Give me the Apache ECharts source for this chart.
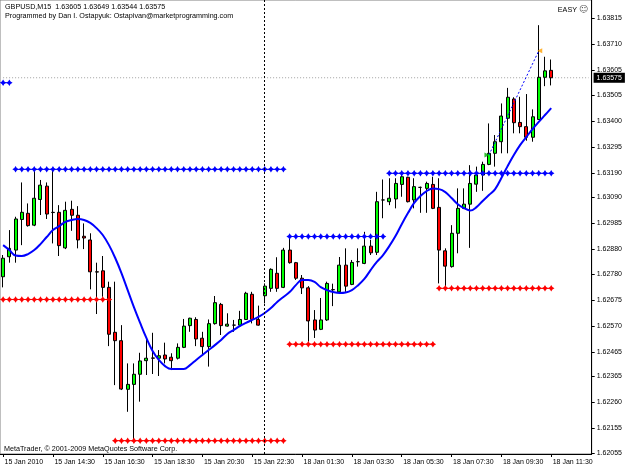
<!DOCTYPE html>
<html><head><meta charset="utf-8">
<script src="https://cdn.jsdelivr.net/npm/echarts@6/dist/echarts.min.js"></script>
<style>html,body{margin:0;padding:0;background:#fff}#c{width:625px;height:469px}</style>
</head><body><div id="c"></div>
<script>
// ---- data ----
const categories = [
'15 Jan 12:30','15 Jan 12:45',
'15 Jan 13:00','15 Jan 13:15','15 Jan 13:30','15 Jan 13:45',
'15 Jan 14:00','15 Jan 14:15','15 Jan 14:30','15 Jan 14:45',
'15 Jan 15:00','15 Jan 15:15','15 Jan 15:30','15 Jan 15:45',
'15 Jan 16:00','15 Jan 16:15','15 Jan 16:30','15 Jan 16:45',
'15 Jan 17:00','15 Jan 17:15','15 Jan 17:30','15 Jan 17:45',
'15 Jan 18:00','15 Jan 18:15','15 Jan 18:30','15 Jan 18:45',
'15 Jan 19:00','15 Jan 19:15','15 Jan 19:30','15 Jan 19:45',
'15 Jan 20:00','15 Jan 20:15','15 Jan 20:30','15 Jan 20:45',
'15 Jan 21:00','15 Jan 21:15','15 Jan 21:30','15 Jan 21:45',
'15 Jan 22:00','15 Jan 22:15','15 Jan 22:30','15 Jan 22:45',
'18 Jan 00:00','18 Jan 00:15','18 Jan 00:30','18 Jan 00:45',
'18 Jan 01:00','18 Jan 01:15','18 Jan 01:30','18 Jan 01:45',
'18 Jan 02:00','18 Jan 02:15','18 Jan 02:30','18 Jan 02:45',
'18 Jan 03:00','18 Jan 03:15','18 Jan 03:30','18 Jan 03:45',
'18 Jan 04:00','18 Jan 04:15','18 Jan 04:30','18 Jan 04:45',
'18 Jan 05:00','18 Jan 05:15','18 Jan 05:30','18 Jan 05:45',
'18 Jan 06:00','18 Jan 06:15','18 Jan 06:30','18 Jan 06:45',
'18 Jan 07:00','18 Jan 07:15','18 Jan 07:30','18 Jan 07:45',
'18 Jan 08:00','18 Jan 08:15','18 Jan 08:30','18 Jan 08:45',
'18 Jan 09:00','18 Jan 09:15','18 Jan 09:30','18 Jan 09:45',
'18 Jan 10:00','18 Jan 10:15','18 Jan 10:30','18 Jan 10:45',
'18 Jan 11:00','18 Jan 11:15','18 Jan 11:30',
'18 Jan 11:45','18 Jan 12:00','18 Jan 12:15','18 Jan 12:30','18 Jan 12:45','18 Jan 13:00'
];
const xTickLabels = ['15 Jan 2010','15 Jan 14:30','15 Jan 16:30','15 Jan 18:30','15 Jan 20:30','15 Jan 22:30',
  '18 Jan 01:30','18 Jan 03:30','18 Jan 05:30','18 Jan 07:30','18 Jan 09:30','18 Jan 11:30'];
const yTickLabels = [1.62055,1.62155,1.62260,1.62365,1.62465,1.62570,1.62675,1.62780,1.62880,
  1.62985,1.63090,1.63190,1.63295,1.63400,1.63505,1.63605,1.63710,1.63815];

const opens = [1.62769,1.62850,1.62877,1.63001,1.63026,1.62978,1.63082,1.63136,1.63030,1.63030,
1.62886,1.63042,1.63018,1.62933,1.62918,1.62789,1.62793,1.62726,1.62544,1.62510,
1.62313,1.62333,1.62374,1.62429,1.62440,1.62439,1.62452,1.62443,1.62439,1.62483,
1.62571,1.62596,1.62520,1.62486,1.62579,1.62657,1.62569,1.62573,1.62573,1.62596,
1.62698,1.62596,1.62692,1.62722,1.62783,1.62726,1.62877,1.62826,1.62763,1.62724,
1.62594,1.62556,1.62594,1.62717,1.62708,1.62816,1.62738,1.62830,1.62823,1.62893,
1.62868,1.63080,1.63073,1.63084,1.63143,1.63172,1.63080,1.63131,1.63127,1.63143,
1.63050,1.62874,1.62810,1.62945,1.63046,1.63063,1.63144,1.63181,1.63224,1.63269,
1.63316,1.63411,1.63489,1.63394,1.63377,1.63334,1.63406,1.63577,1.63605];
const highs = [1.62857,1.62958,1.63012,1.63151,1.63066,1.63201,1.63161,1.63151,1.63201,1.63059,
1.63073,1.63077,1.63055,1.62985,1.62945,1.62826,1.62853,1.62749,1.62749,1.62573,
1.62418,1.62418,1.62461,1.62522,1.62542,1.62472,1.62502,1.62459,1.62499,1.62598,
1.62603,1.62605,1.62546,1.62596,1.62691,1.62663,1.62621,1.62594,1.62631,1.62708,
1.62708,1.62652,1.62742,1.62803,1.62848,1.62886,1.62934,1.62829,1.62776,1.62731,
1.62634,1.62683,1.62749,1.62741,1.62849,1.62884,1.62837,1.62884,1.62951,1.62918,
1.63113,1.63163,1.63168,1.63168,1.63194,1.63174,1.63168,1.63134,1.63154,1.63174,
1.63168,1.62884,1.62978,1.63127,1.63127,1.63221,1.63215,1.63235,1.63390,1.63343,
1.63471,1.63534,1.63496,1.63498,1.63509,1.63447,1.63788,1.63660,1.63649];
const lows = [1.62726,1.62826,1.62826,1.62897,1.62972,1.62974,1.63019,1.63003,1.62904,1.62853,
1.62881,1.62955,1.62884,1.62881,1.62718,1.62618,1.62688,1.62488,1.62330,1.62310,
1.62222,1.62108,1.62263,1.62371,1.62375,1.62367,1.62418,1.62391,1.62434,1.62480,
1.62546,1.62488,1.62448,1.62405,1.62575,1.62533,1.62567,1.62546,1.62569,1.62594,
1.62580,1.62571,1.62661,1.62708,1.62708,1.62723,1.62822,1.62756,1.62699,1.62506,
1.62521,1.62553,1.62590,1.62650,1.62705,1.62708,1.62735,1.62810,1.62820,1.62857,
1.62857,1.63006,1.63059,1.63046,1.63093,1.63070,1.63046,1.63028,1.63028,1.63043,
1.62742,1.62729,1.62806,1.62864,1.63043,1.62886,1.63113,1.63117,1.63221,1.63215,
1.63269,1.63269,1.63350,1.63350,1.63320,1.63316,1.63404,1.63541,1.63544];
const closes = [1.62844,1.62884,1.63003,1.63030,1.62976,1.63087,1.63140,1.63023,1.63029,1.62895,
1.63038,1.63018,1.62918,1.62926,1.62789,1.62788,1.62726,1.62536,1.62510,1.62314,
1.62333,1.62374,1.62428,1.62439,1.62439,1.62449,1.62436,1.62429,1.62483,1.62569,
1.62601,1.62517,1.62486,1.62579,1.62664,1.62571,1.62577,1.62573,1.62596,1.62702,
1.62596,1.62573,1.62731,1.62799,1.62722,1.62877,1.62826,1.62763,1.62724,1.62590,
1.62553,1.62594,1.62742,1.62716,1.62816,1.62731,1.62827,1.62830,1.62893,1.62866,
1.63073,1.63080,1.63087,1.63147,1.63174,1.63073,1.63134,1.63131,1.63147,1.63046,
1.62877,1.62812,1.62945,1.63046,1.63063,1.63147,1.63181,1.63224,1.63269,1.63316,
1.63420,1.63496,1.63393,1.63377,1.63334,1.63417,1.63577,1.63603,1.63575];
const maValues = [1.62897,1.62877,1.62855,1.62853,1.62861,1.62877,1.62901,1.62930,1.62958,1.62974,
1.62991,1.62999,1.63003,1.62999,1.62987,1.62966,1.62938,1.62897,1.62845,1.62784,
1.62715,1.62646,1.62582,1.62521,1.62468,1.62432,1.62407,1.62395,1.62395,1.62395,
1.62411,1.62432,1.62452,1.62472,1.62492,1.62513,1.62537,1.62553,1.62569,1.62582,
1.62594,1.62606,1.62622,1.62642,1.62667,1.62687,1.62707,1.62735,1.62756,1.62756,
1.62748,1.62727,1.62715,1.62707,1.62703,1.62705,1.62715,1.62735,1.62760,1.62796,
1.62829,1.62857,1.62893,1.62934,1.62982,1.63027,1.63068,1.63096,1.63116,1.63126,
1.63124,1.63112,1.63088,1.63063,1.63047,1.63037,1.63051,1.63076,1.63100,1.63124,
1.63169,1.63217,1.63262,1.63302,1.63335,1.63367,1.63396,1.63424,1.63452];
// [price, first bar, last bar]
const resistanceLevels = [[1.63555,0,1],[1.63204,2,45],[1.62932,46,61],[1.63188,62,88]];
const supportLevels = [[1.62677,0,17],[1.62105,18,45],[1.62496,46,69],[1.62722,70,88]];
const tradeOpen = [78, 1.63262];
const tradeClose = [86, 1.63684];
const bidPrice = 1.63575;
const separatorBar = 42;
const titleLine1 = 'GBPUSD,M15  1.63605 1.63649 1.63544 1.63575';
const titleLine2 = 'Programmed by Dan I. Ostapyuk: Ostapivan@marketprogramming.com';
const copyrightText = 'MetaTrader, \u00a9 2001-2009 MetaQuotes Software Corp.';

// ---- chart ----
const FONT = '"Liberation Sans", Arial, sans-serif';
const star = 'path://M5,0 L6.9,3.1 L10,5 L6.9,6.9 L5,10 L3.1,6.9 L0,5 L3.1,3.1 Z';
const candleData = opens.map((o, i) => [o, closes[i], lows[i], highs[i]]);
const lastIdx = categories.length - 1;

function levelSeries(lv, color) {
  const data = [];
  for (let i = lv[1]; i <= lv[2]; i++) data.push([i, lv[0]]);
  return {type: 'line', data, symbol: star, symbolSize: 6.5, showAllSymbol: true,
    lineStyle: {color, width: 1}, itemStyle: {color}, z: 3, silent: true, animation: false};
}

const series = [
  {
    type: 'candlestick', data: candleData, barWidth: 3.5, z: 2,
    itemStyle: {color: '#00ff00', color0: '#ff0000', borderColor: '#000', borderColor0: '#000',
      borderColorDoji: '#000', borderWidth: 1},
    markLine: {
      silent: true, symbol: ['none', 'none'], animation: false,
      data: [
        {xAxis: separatorBar, lineStyle: {color: '#000', width: 1, type: [2, 2]}, label: {show: false}}
      ]
    }
  },
  // bid line with its price box on the axis
  {type: 'line', data: [[0, bidPrice], [lastIdx, bidPrice]], symbol: 'none', z: 1, silent: true,
    lineStyle: {color: '#a0a0a0', width: 1, type: [1, 2]},
    endLabel: {show: true, distance: 5, formatter: () => bidPrice.toFixed(5),
      backgroundColor: '#000', color: '#fff', fontSize: 7, fontFamily: FONT, padding: [2, 3, 1, 3]}},
  {type: 'line', data: maValues, symbol: 'none', smooth: 0.4, z: 4,
    lineStyle: {color: '#0000ff', width: 2}},
  {type: 'line', data: [tradeOpen, tradeClose], symbol: 'none', z: 5,
    lineStyle: {color: '#0000ff', width: 1, type: [2, 2]}},
  {type: 'scatter', z: 6, data: [
    {value: tradeOpen, symbol: 'triangle', symbolRotate: -90, symbolSize: 5, symbolOffset: [-2, 0], itemStyle: {color: '#00b000'}},
    {value: tradeClose, symbol: 'triangle', symbolRotate: 90, symbolSize: 5, symbolOffset: [1, 0], itemStyle: {color: '#ffa000'}}
  ]}
];
resistanceLevels.forEach(l => series.push(levelSeries(l, '#0000ff')));
supportLevels.forEach(l => series.push(levelSeries(l, '#ff0000')));

const option = {
  animation: false,
  backgroundColor: '#fff',
  grid: {left: 0, right: 31.25, top: 0, bottom: 15, show: true, borderColor: '#808080', borderWidth: 1},
  xAxis: {
    type: 'category', data: categories, boundaryGap: true,
    axisLine: {show: true, lineStyle: {color: '#000', width: 1}},
    axisTick: {show: true, interval: 7, alignWithLabel: true, length: 3, lineStyle: {color: '#000'}},
    axisLabel: {interval: 7, align: 'left', margin: 5, fontSize: 7, fontFamily: FONT, color: '#000',
      padding: [0, 0, 0, 1.5],
      formatter: (v, i) => xTickLabels[i / 8] || ''},
    splitLine: {show: false}
  },
  yAxis: {
    type: 'value', position: 'right', min: 1.62051, max: 1.6389, scale: true,
    splitLine: {show: false},
    axisLine: {show: true, lineStyle: {color: '#000', width: 1}},
    axisTick: {show: true, length: 3, inside: false, customValues: yTickLabels, lineStyle: {color: '#000'}},
    axisLabel: {customValues: yTickLabels, margin: 5, fontSize: 7, fontFamily: FONT, color: '#000',
      formatter: v => v.toFixed(5), showMinLabel: true, showMaxLabel: true}
  },
  graphic: [
    {type: 'text', x: 5, y: 7.3, z: 100, style: {text: titleLine1, font: '7.2px ' + FONT, fill: '#000', textVerticalAlign: 'middle'}},
    {type: 'text', x: 5, y: 16, z: 100, style: {text: titleLine2, font: '7.2px ' + FONT, fill: '#000', textVerticalAlign: 'middle'}},
    {type: 'text', x: 577, y: 10, z: 100, style: {text: 'EASY', font: '7.2px ' + FONT, fill: '#000', textAlign: 'right', textVerticalAlign: 'middle'}},
    {type: 'text', x: 583.5, y: 10, z: 100, style: {text: '\u263a', font: '9px "DejaVu Sans"', fill: '#555', textAlign: 'center', textVerticalAlign: 'middle'}},
    {type: 'text', x: 4, y: 449, z: 100, style: {text: copyrightText, font: '7.2px ' + FONT, fill: '#000', textVerticalAlign: 'middle'}}
  ],
  series
};
const chart = echarts.init(document.getElementById('c'), null, {renderer: 'canvas'});
chart.setOption(option);
</script></body></html>
